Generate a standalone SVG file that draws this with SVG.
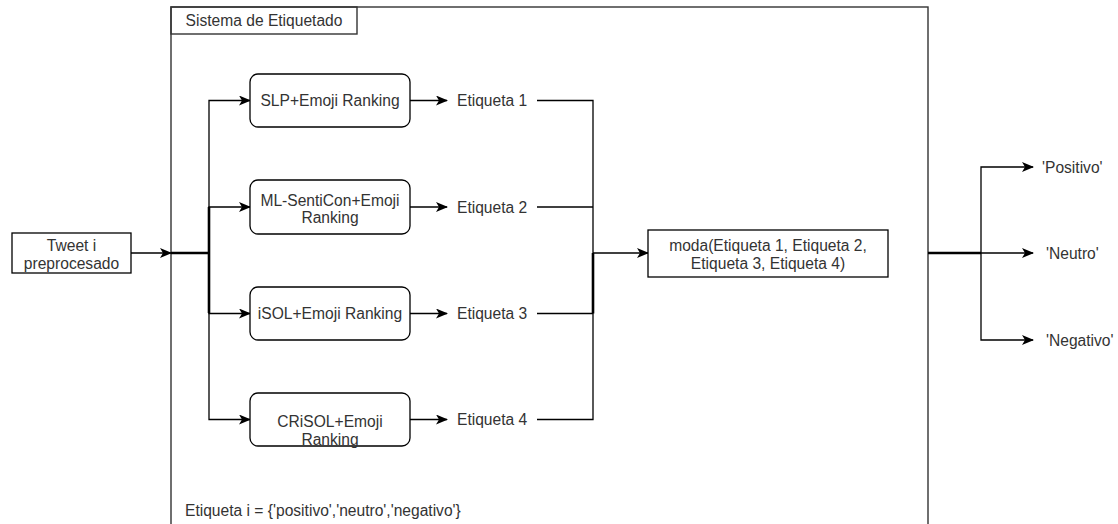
<svg xmlns="http://www.w3.org/2000/svg" width="1118" height="524" viewBox="0 0 1118 524">
  <style>
    .box { fill: #ffffff; stroke: #000000; stroke-width: 1.3; }
    .frame { fill: none; stroke: #333333; stroke-width: 1.4; }
    .edge { fill: none; stroke: #000000; stroke-width: 1.3; }
    .trunk { fill: none; stroke: #000000; stroke-width: 2.6; }
    text { font-family: "Liberation Sans", Arial, sans-serif; font-size: 15.6px; fill: #333333; }
    .c { text-anchor: middle; }
  </style>
  <defs>
    <marker id="arrow" viewBox="0 0 12 10" refX="11" refY="5" markerWidth="12" markerHeight="10" markerUnits="userSpaceOnUse" orient="auto">
      <path d="M0,0 L12,5 L0,10 L3,5 Z" fill="#000000"/>
    </marker>
  </defs>
  <rect width="1118" height="524" fill="#ffffff"/>

  <!-- labelling system container -->
  <g id="sistema">
    <rect class="frame" x="171" y="7" width="757" height="530"/>
    <rect class="frame" x="171" y="7" width="186" height="27"/>
    <text x="264" y="26" class="c">Sistema de Etiquetado</text>
    <text x="185" y="516">Etiqueta i = {'positivo','neutro','negativo'}</text>
  </g>

  <!-- connectors -->
  <g id="connectors">
    <path class="edge" d="M131,253 H171" marker-end="url(#arrow)"/>
    <path class="trunk" d="M171,253 H209"/>
    <path class="trunk" d="M209,207 V313"/>
    <path class="edge" d="M209,253 V100.5 H250" marker-end="url(#arrow)"/>
    <path class="edge" d="M209,253 V207 H250" marker-end="url(#arrow)"/>
    <path class="edge" d="M209,253 V313.5 H250" marker-end="url(#arrow)"/>
    <path class="edge" d="M209,253 V419.5 H250" marker-end="url(#arrow)"/>

    <path class="edge" d="M410,100.5 H447" marker-end="url(#arrow)"/>
    <path class="edge" d="M410,207 H447" marker-end="url(#arrow)"/>
    <path class="edge" d="M410,313.5 H447" marker-end="url(#arrow)"/>
    <path class="edge" d="M410,419.5 H447" marker-end="url(#arrow)"/>

    <path class="edge" d="M537,100.5 H593 V253"/>
    <path class="edge" d="M537,207 H593"/>
    <path class="edge" d="M537,313.5 H593"/>
    <path class="edge" d="M537,419.5 H593 V253"/>
    <path class="trunk" d="M593,253 V313.5"/>
    <path class="edge" d="M593,253 H648" marker-end="url(#arrow)"/>

    <path class="trunk" d="M928,253 H981"/>
    <path class="edge" d="M981,253 V167 H1033" marker-end="url(#arrow)"/>
    <path class="edge" d="M981,253 H1033" marker-end="url(#arrow)"/>
    <path class="edge" d="M981,253 V340 H1033" marker-end="url(#arrow)"/>
  </g>

  <g id="tweet">
    <rect class="box" x="12" y="233" width="119" height="40"/>
    <text x="71.5" y="250.5" class="c">Tweet i</text>
    <text x="71.5" y="268.5" class="c">preprocesado</text>
  </g>

  <g id="slp">
    <rect class="box" x="250" y="74" width="160" height="53" rx="8"/>
    <text x="330" y="106" class="c">SLP+Emoji Ranking</text>
  </g>
  <g id="mlsenticon">
    <rect class="box" x="250" y="180" width="160" height="54" rx="8"/>
    <text x="330" y="205.5" class="c">ML-SentiCon+Emoji</text>
    <text x="330" y="223" class="c">Ranking</text>
  </g>
  <g id="isol">
    <rect class="box" x="250" y="287" width="160" height="53" rx="8"/>
    <text x="330" y="319" class="c">iSOL+Emoji Ranking</text>
  </g>
  <g id="crisol">
    <rect class="box" x="250" y="393" width="160" height="53" rx="8"/>
    <text x="330" y="426.5" class="c">CRiSOL+Emoji</text>
    <text x="330" y="444.5" class="c">Ranking</text>
  </g>

  <g id="etiqueta1"><text x="457" y="106">Etiqueta 1</text></g>
  <g id="etiqueta2"><text x="457" y="212.5">Etiqueta 2</text></g>
  <g id="etiqueta3"><text x="457" y="319">Etiqueta 3</text></g>
  <g id="etiqueta4"><text x="457" y="425">Etiqueta 4</text></g>

  <g id="moda">
    <rect class="box" x="648" y="230" width="240" height="47"/>
    <text x="768" y="250.5" class="c">moda(Etiqueta 1, Etiqueta 2,</text>
    <text x="768" y="268.5" class="c">Etiqueta 3, Etiqueta 4)</text>
  </g>

  <g id="positivo"><text x="1042" y="172.5">'Positivo'</text></g>
  <g id="neutro"><text x="1046" y="258.5">'Neutro'</text></g>
  <g id="negativo"><text x="1046" y="345.5">'Negativo'</text></g>
</svg>
